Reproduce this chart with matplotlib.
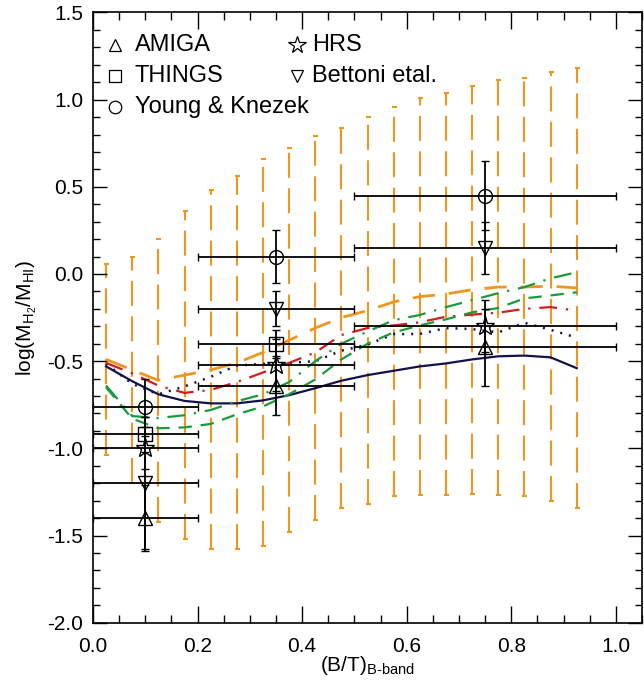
import matplotlib
matplotlib.use('Agg')
import matplotlib.pyplot as plt
from matplotlib.ticker import MultipleLocator, FormatStrFormatter

plt.rcParams['font.family'] = ['Liberation Sans', 'DejaVu Sans']
plt.rcParams['mathtext.fontset'] = 'custom'
plt.rcParams['mathtext.rm'] = 'Liberation Sans'
plt.rcParams['mathtext.it'] = 'Liberation Sans'
plt.rcParams['mathtext.default'] = 'regular'

# model curves, sampled in B/T
bt = [0.025, 0.075, 0.125, 0.175, 0.225, 0.275, 0.325, 0.375, 0.425, 0.475,
      0.525, 0.575, 0.625, 0.675, 0.725, 0.775, 0.825, 0.875, 0.925]
orange_mean = [-0.49, -0.55, -0.61, -0.58, -0.55, -0.51, -0.45, -0.38, -0.31, -0.25,
               -0.21, -0.16, -0.13, -0.115, -0.09, -0.075, -0.075, -0.07, -0.08]
orange_err = [0.55, 0.65, 0.81, 0.94, 1.03, 1.07, 1.11, 1.10, 1.10, 1.09,
              1.11, 1.115, 1.14, 1.155, 1.17, 1.19, 1.20, 1.23, 1.26]
navy_solid = [-0.53, -0.615, -0.69, -0.728, -0.742, -0.742, -0.725, -0.695, -0.655, -0.612,
              -0.58, -0.555, -0.53, -0.513, -0.49, -0.472, -0.468, -0.478, -0.54]
navy_dot = [-0.515, -0.63, -0.69, -0.645, -0.59, -0.525, -0.516, -0.51, -0.50, -0.44,
            -0.405, -0.345, -0.344, -0.31, -0.316, -0.335, -0.28, -0.32, -0.365]
red_dd = [-0.51, -0.57, -0.64, -0.682, -0.665, -0.62, -0.565, -0.51, -0.45, -0.35,
          -0.31, -0.295, -0.277, -0.245, -0.233, -0.222, -0.2, -0.19, -0.21]
green_dd = [-0.64, -0.815, -0.826, -0.81, -0.78, -0.73, -0.69, -0.62, -0.50, -0.40,
            -0.33, -0.265, -0.235, -0.19, -0.15, -0.11, -0.075, -0.025, 0.01]
green_dash = [-0.65, -0.83, -0.885, -0.88, -0.86, -0.805, -0.76, -0.69, -0.605, -0.49,
              -0.40, -0.335, -0.295, -0.26, -0.22, -0.195, -0.14, -0.123, -0.105]

# observed samples in B/T bins
bins = [0.1, 0.35, 0.75]
bin_hw = [0.1, 0.15, 0.25]
amiga = [-1.40, -0.64, -0.42]
amiga_err = [0.19, 0.17, 0.22]
things = [-0.92, -0.40]
things_err = [0.10, 0.08]
young = [-0.765, 0.10, 0.45]
young_err = [0.165, 0.15, 0.20]
hrs = [-1.00, -0.52, -0.30]
hrs_err = [0.12, 0.15, 0.15]
bettoni = [-1.20, -0.20, 0.15]
bettoni_err = [0.38, 0.10, 0.15]

orange = '#F0961E'
navy = '#12124A'
red = '#D21C1C'
green = '#1A9A3A'

fig = plt.figure(figsize=(6.44, 6.84), dpi=100)
ax = fig.add_axes([0.1444, 0.0896, 0.8526, 0.8922])

eb = ax.errorbar(bt, orange_mean, yerr=orange_err, fmt='none', ecolor=orange,
                 elinewidth=1.5, capsize=1.8, capthick=1.5, zorder=1)
eb[2][0].set_linestyle((0, (12, 5)))
ax.plot(bt, orange_mean, color=orange, lw=2, ls=(0, (8, 5)), zorder=2)
ax.plot(bt, navy_solid, color=navy, lw=1.6, zorder=3)
ax.plot(bt, navy_dot, color=navy, lw=1.8, ls=(0, (0.8, 2.8)), zorder=3)
ax.plot(bt, red_dd, color=red, lw=1.6, ls=(0, (8, 4, 1, 4)), zorder=3)
ax.plot(bt, green_dd, color=green, lw=1.6, ls=(0, (8, 4, 1, 4)), zorder=3)
ax.plot(bt, green_dash, color=green, lw=1.6, ls=(0, (6, 4)), zorder=3)

samples = [
    ('^', amiga, amiga_err, 10),
    ('s', things, things_err, 9.5),
    ('o', young, young_err, 10),
    ('*', hrs, hrs_err, 14),
    ('v', bettoni, bettoni_err, 10),
]
for mk, yv, ye, ms in samples:
    n = len(yv)
    ax.errorbar(bins[:n], yv, xerr=bin_hw[:n], yerr=ye, fmt=mk, ms=ms,
                mfc='none', mec='black', mew=1.0, ecolor='black',
                elinewidth=1.3, capsize=2.6, capthick=1.3, zorder=5)

# legend drawn IDL style as text
labels = ['AMIGA', 'THINGS', 'Young & Knezek', 'HRS', 'Bettoni etal.']
markers = ['^', 's', 'o', '*', 'v']
lsizes = [8, 8, 9, 13, 8]
for i, (lab, mk, ls_) in enumerate(zip(labels, markers, lsizes)):
    col, row = divmod(i, 3)
    x0 = 0.040 + col * 0.332
    y0 = 0.947 - row * 0.051
    ax.plot([x0], [y0], marker=mk, ms=ls_, mfc='none', mec='black', mew=0.9,
            transform=ax.transAxes, clip_on=False)
    ax.text(x0 + (0.036 if col == 0 else 0.027), y0, lab, fontsize=17,
            va='center', ha='left', transform=ax.transAxes)

ax.set_xlim(0, 1.05)
ax.set_ylim(-2.0, 1.5)
ax.xaxis.set_major_locator(MultipleLocator(0.2))
ax.xaxis.set_minor_locator(MultipleLocator(0.05))
ax.yaxis.set_major_locator(MultipleLocator(0.5))
ax.yaxis.set_minor_locator(MultipleLocator(0.1))
ax.xaxis.set_major_formatter(FormatStrFormatter('%.1f'))
ax.yaxis.set_major_formatter(FormatStrFormatter('%.1f'))
ax.tick_params(which='both', direction='in', top=True, right=True, labelsize=15, width=1)
ax.tick_params(axis='x', which='major', length=12, pad=10)
ax.tick_params(axis='x', which='minor', length=6)
ax.tick_params(axis='y', which='major', length=10, pad=7)
ax.tick_params(axis='y', which='minor', length=5)
for s in ax.spines.values():
    s.set_linewidth(1.2)

ax.set_xlabel('(B/T)$_{B\u2010band}$', fontsize=15, labelpad=-1)
ax.set_ylabel('log(M$_{H_2}$/M$_{HI}$)', fontsize=15, labelpad=6)

fig.savefig('out.png', dpi=100)
